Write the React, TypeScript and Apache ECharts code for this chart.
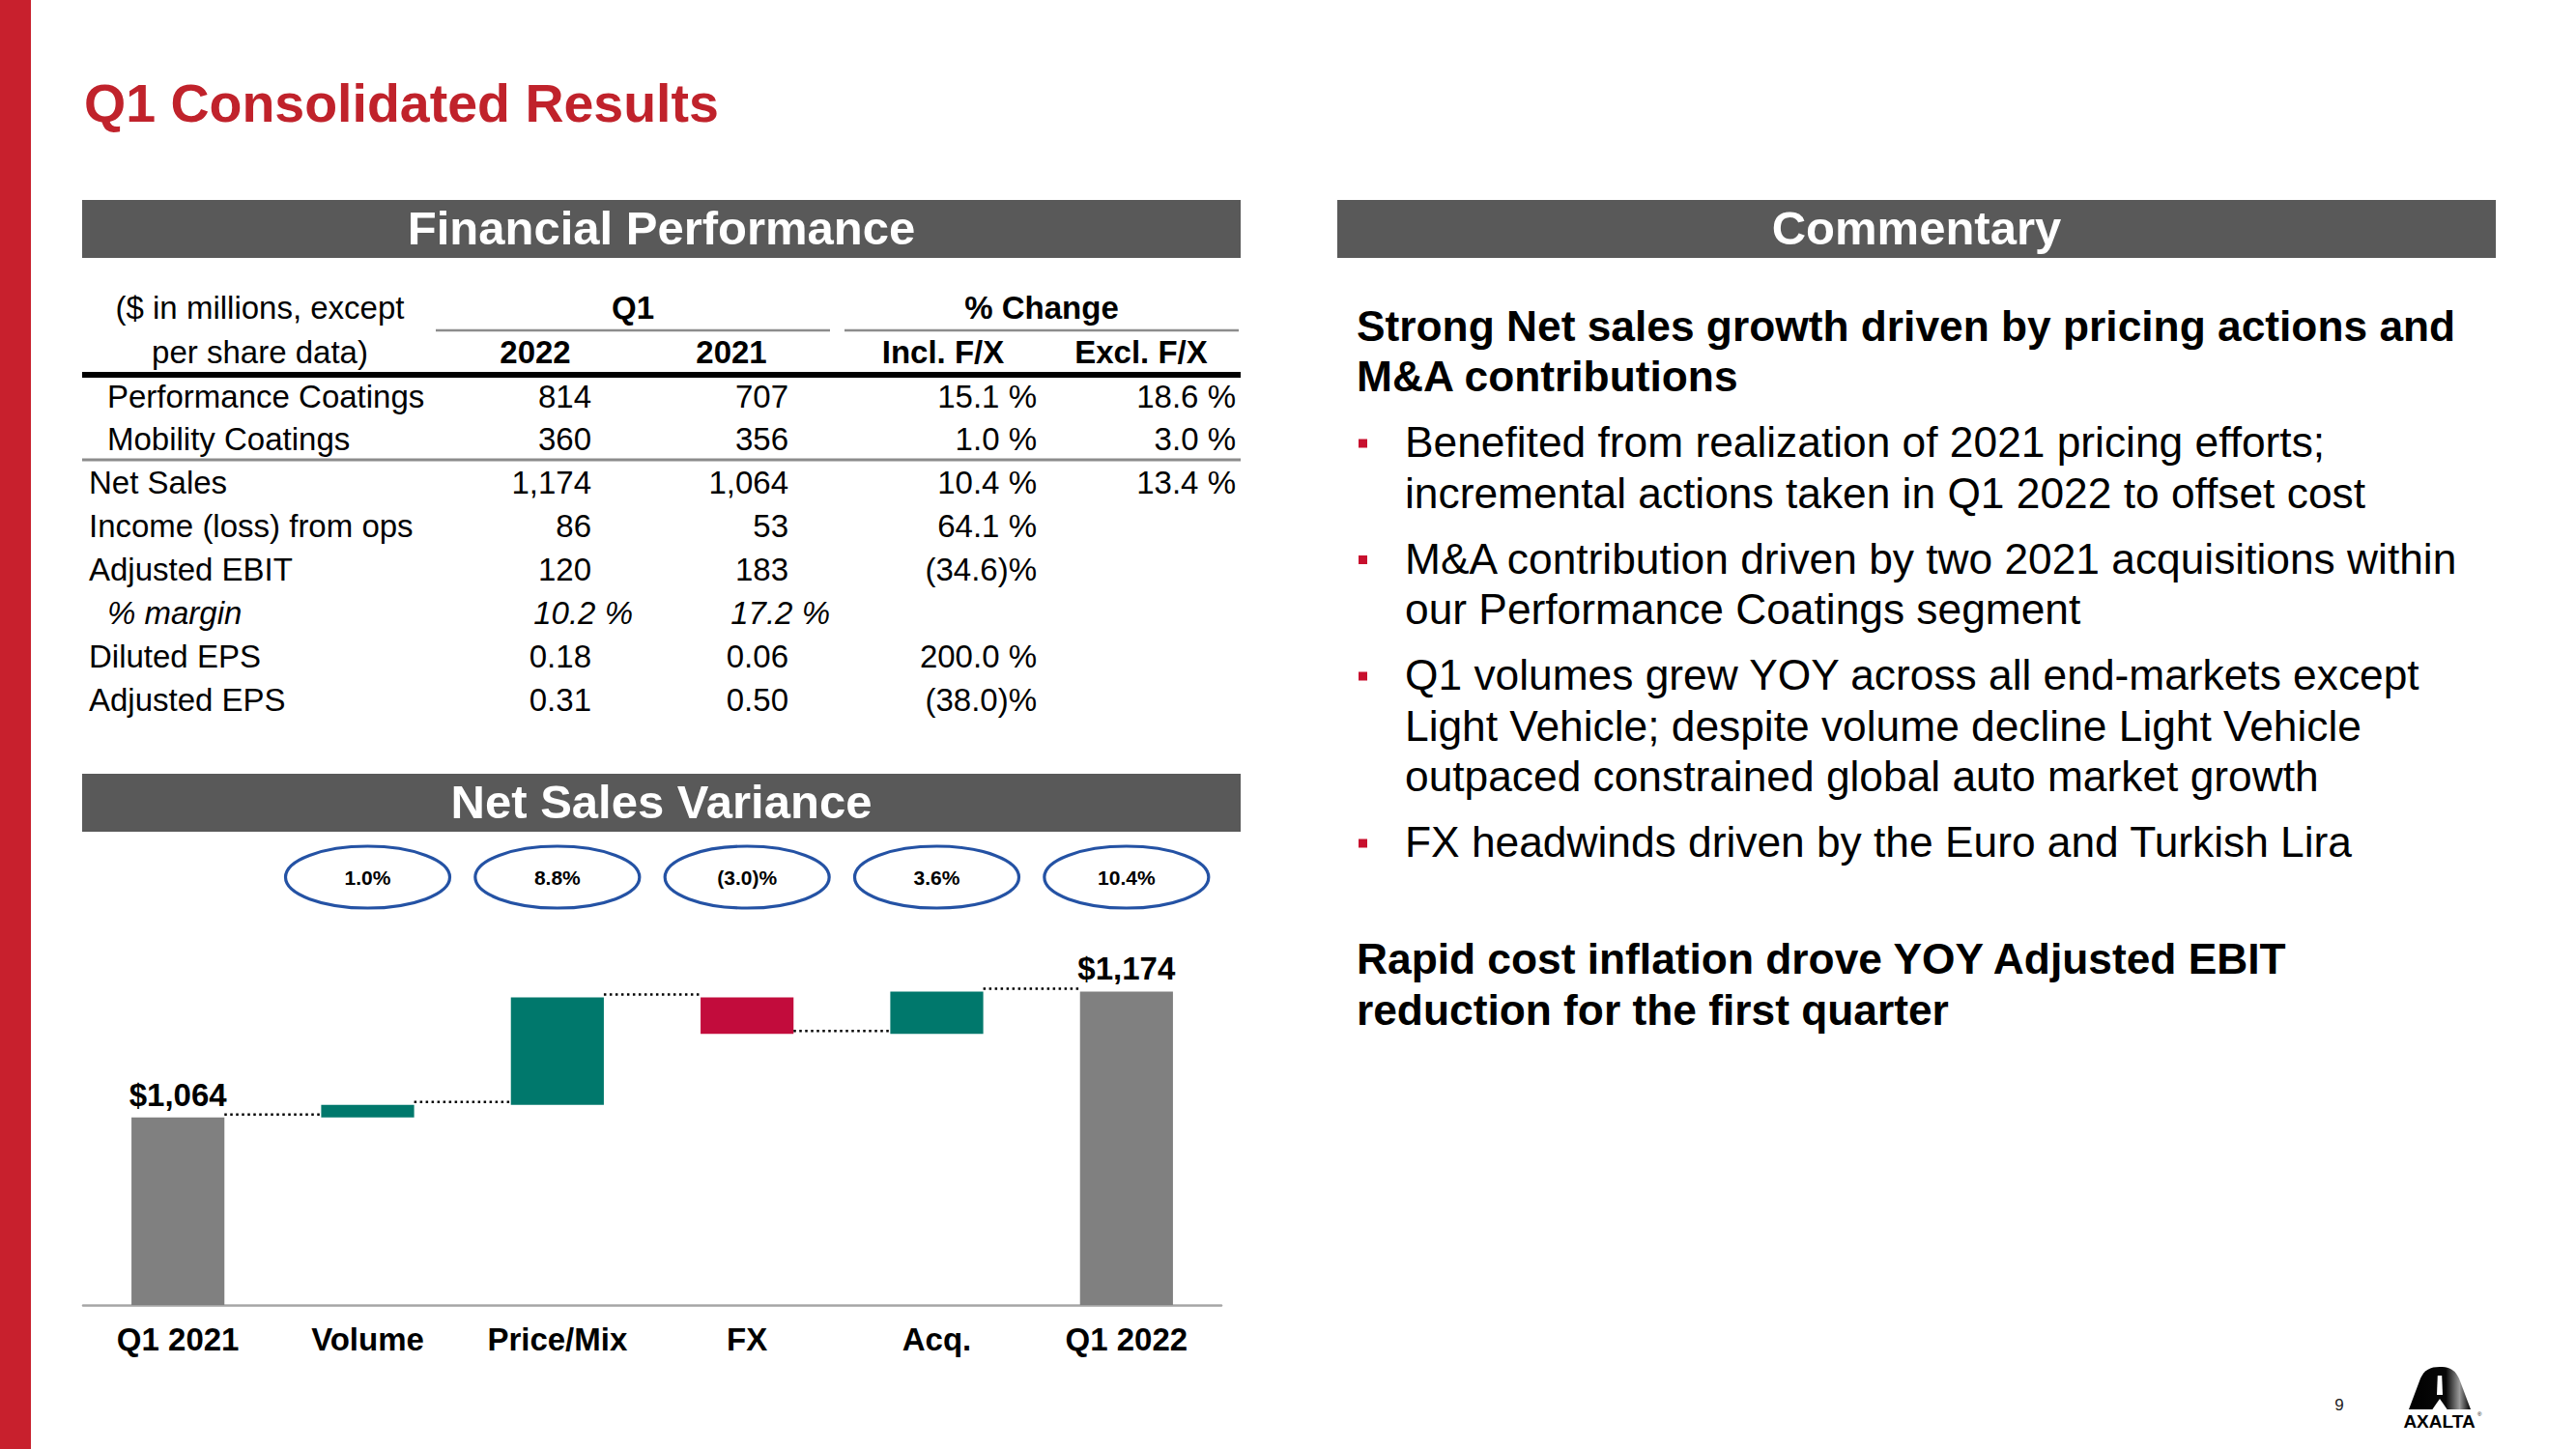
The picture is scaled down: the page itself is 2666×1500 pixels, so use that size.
import React, { useEffect, useRef } from "react";
import * as echarts from "echarts";

const FONT = '"Liberation Sans", Arial, Helvetica, sans-serif';

// ---------------- data ----------------
const categories = ["Q1 2021", "Volume", "Price/Mix", "FX", "Acq.", "Q1 2022"];
const startTotal = 1064;
const endTotal = 1174;
const deltaValues = [11, 94, -32, 37];
const totalLabels = ["$1,064", "$1,174"];
const variancePct = ["1.0%", "8.8%", "(3.0)%", "3.6%", "10.4%"];

const titleText = "Q1 Consolidated Results";
const panelTitles = ["Financial Performance", "Commentary", "Net Sales Variance"];

const headerLeft = ["($ in millions, except", "per share data)"];
const headerGroups = ["Q1", "% Change"];
const headerCols = ["2022", "2021", "Incl. F/X", "Excl. F/X"];

const rowLabels = [
  "Performance Coatings",
  "Mobility Coatings",
  "Net Sales",
  "Income (loss) from ops",
  "Adjusted EBIT",
  "% margin",
  "Diluted EPS",
  "Adjusted EPS",
];
const rowIndent = [1, 1, 0, 0, 0, 1, 0, 0];
const rowItalic = [0, 0, 0, 0, 0, 1, 0, 0];
const values2022 = ["814", "360", "1,174", "86", "120", "10.2 %", "0.18", "0.31"];
const values2021 = ["707", "356", "1,064", "53", "183", "17.2 %", "0.06", "0.50"];
const changeInclFX = ["15.1 %", "1.0 %", "10.4 %", "64.1 %", "(34.6)%", "", "200.0 %", "(38.0)%"];
const changeExclFX = ["18.6 %", "3.0 %", "13.4 %", "", "", "", "", ""];

const commentaryHeadline1 = [
  "Strong Net sales growth driven by pricing actions and",
  "M&A contributions",
];
const commentaryBullets = [
  ["Benefited from realization of 2021 pricing efforts;", "incremental actions taken in Q1 2022 to offset cost"],
  ["M&A contribution driven by two 2021 acquisitions within", "our Performance Coatings segment"],
  [
    "Q1 volumes grew YOY across all end-markets except",
    "Light Vehicle; despite volume decline Light Vehicle",
    "outpaced constrained global auto market growth",
  ],
  ["FX headwinds driven by the Euro and Turkish Lira"],
];
const commentaryHeadline2 = [
  "Rapid cost inflation drove YOY Adjusted EBIT",
  "reduction for the first quarter",
];
const pageNumber = "9";
const logoText = "AXALTA";

// ---------------- styling / layout ----------------
const RED = "#C8202D";
const TITLE_RED = "#C0222B";
const PANEL_GRAY = "#595959";
const BAR_COLORS = ["#808080", "#00786C", "#C20C3C"];
const Y_MIN = 900;
const Y_MAX = 1350;
const ELLIPSE_LEVEL = 1274;
const BAR_RATIO = 0.49;

const ARCH_PATH = "M0,44 L12,12 C16,3 22,0 32,0 C42,0 48,3 52,12 L64,44 Z";

function txt(x: number, y: number, text: string, size: number, opts: any = {}) {
  const align = opts.align || "left";
  const v = opts.verticalAlign || "middle";
  return {
    type: "text",
    x,
    y,
    silent: true,
    style: {
      text,
      fill: opts.color || "#000",
      fontSize: size,
      fontFamily: FONT,
      fontWeight: opts.bold ? "bold" : "normal",
      fontStyle: opts.italic ? "italic" : "normal",
      align,
      verticalAlign: v,
      textAlign: align,
      textVerticalAlign: v,
    },
  };
}

function buildGraphics() {
  const g: any[] = [];
  // left red band
  g.push({ type: "rect", shape: { x: 0, y: 0, width: 32, height: 1500 }, style: { fill: RED }, silent: true });
  // title
  g.push(txt(87, 107, titleText, 55.5, { bold: true, color: TITLE_RED }));

  // panel headers
  const panels = [
    [85, 207, 1199, 60],
    [1384, 207, 1199, 60],
    [85, 801, 1199, 60],
  ];
  panels.forEach((p, i) => {
    g.push({ type: "rect", shape: { x: p[0], y: p[1], width: p[2], height: p[3] }, style: { fill: PANEL_GRAY }, silent: true });
    g.push(txt(p[0] + p[2] / 2, p[1] + p[3] / 2 - 1, panelTitles[i], 49, { bold: true, color: "#fff", align: "center" }));
  });

  // ---- table ----
  const fs = 33;
  g.push(txt(269, 318, headerLeft[0], fs, { align: "center" }));
  g.push(txt(269, 364, headerLeft[1], fs, { align: "center" }));
  g.push(txt(655, 318, headerGroups[0], fs, { bold: true, align: "center" }));
  g.push(txt(1078, 318, headerGroups[1], fs, { bold: true, align: "center" }));
  const colCenters = [554, 757, 976, 1181];
  headerCols.forEach((h, i) => g.push(txt(colCenters[i], 364, h, fs, { bold: true, align: "center" })));

  const lineEl = (x1: number, y1: number, x2: number, y2: number, color: string, w: number) => ({
    type: "line",
    silent: true,
    shape: { x1, y1, x2, y2 },
    style: { stroke: color, lineWidth: w },
  });
  g.push(lineEl(451, 342, 859, 342, "#8C8C8C", 2.5));
  g.push(lineEl(874, 342, 1282, 342, "#8C8C8C", 2.5));
  g.push(lineEl(85, 388, 1284, 388, "#000", 6));
  g.push(lineEl(85, 476, 1284, 476, "#8C8C8C", 3));

  const rowY0 = 410;
  const rowStep = 44.9;
  const pctShift = 43;
  rowLabels.forEach((lab, r) => {
    const y = rowY0 + r * rowStep;
    const it = !!rowItalic[r];
    g.push(txt(rowIndent[r] ? 111 : 92, y, lab, fs, { italic: it }));
    const v22 = values2022[r];
    const v21 = values2021[r];
    g.push(txt(612 + (v22.indexOf("%") >= 0 ? pctShift : 0), y, v22, fs, { italic: it, align: "right" }));
    g.push(txt(816 + (v21.indexOf("%") >= 0 ? pctShift : 0), y, v21, fs, { italic: it, align: "right" }));
    if (changeInclFX[r]) g.push(txt(1073, y, changeInclFX[r], fs, { align: "right" }));
    if (changeExclFX[r]) g.push(txt(1279, y, changeExclFX[r], fs, { align: "right" }));
  });

  // ---- commentary ----
  const cfs = 44.3;
  const lh = 52.5;
  const gap = 15.5;
  let y = 337;
  commentaryHeadline1.forEach((l) => {
    g.push(txt(1404, y, l, cfs, { bold: true }));
    y += lh;
  });
  y += gap;
  commentaryBullets.forEach((lines) => {
    g.push({ type: "rect", silent: true, shape: { x: 1406, y: y - 3, width: 9, height: 9 }, style: { fill: "#C8102E" } });
    lines.forEach((l) => {
      g.push(txt(1454, y, l, cfs));
      y += lh;
    });
    y += gap;
  });
  y += 121 - lh - gap;
  commentaryHeadline2.forEach((l) => {
    g.push(txt(1404, y, l, cfs, { bold: true }));
    y += lh;
  });

  // page number
  g.push(txt(2421, 1454, pageNumber, 17, { align: "center", color: "#222" }));

  // logo
  const LX = 2493;
  const LY = 1415;
  g.push({
    type: "axaltaArch",
    x: LX,
    y: LY,
    scaleX: 1,
    scaleY: 1,
    silent: true,
    style: {
      fill: new echarts.graphic.LinearGradient(0, 0, 1, 0, [
        { offset: 0, color: "#000" },
        { offset: 0.6, color: "#080808" },
        { offset: 0.82, color: "#9a9a9a" },
        { offset: 0.93, color: "#3a3a3a" },
        { offset: 1, color: "#000" },
      ]),
    },
  });
  g.push({
    type: "polygon",
    silent: true,
    shape: { points: [[29.8, 9], [34.2, 9], [35, 29], [29, 29]] },
    x: LX,
    y: LY,
    style: { fill: "#fff" },
  });
  g.push({
    type: "polygon",
    silent: true,
    shape: { points: [[24, 44.5], [32, 33], [40, 44.5]] },
    x: LX,
    y: LY,
    style: { fill: "#fff" },
  });
  g.push(txt(2524.5, 1471, logoText, 19, { bold: true, align: "center" }));
  g.push(txt(2564, 1464, "®", 6, { align: "left" }));
  return g;
}

function buildWaterfall() {
  const segs: number[][] = [];
  segs.push([0, Y_MIN, startTotal, 0]);
  let run = startTotal;
  const levels: number[] = [startTotal];
  deltaValues.forEach((d, k) => {
    const next = run + d;
    segs.push([k + 1, Math.min(run, next), Math.max(run, next), d >= 0 ? 1 : 2]);
    run = next;
    levels.push(run);
  });
  segs.push([categories.length - 1, Y_MIN, endTotal, 0]);
  const connectors = levels.map((L, i) => [i, L]);
  const ellipses = variancePct.map((_, i) => [i + 1, ELLIPSE_LEVEL]);
  return { segs, connectors, ellipses };
}

export default function App() {
  const ref = useRef<HTMLDivElement>(null);
  useEffect(() => {
    document.body.style.margin = "0";
    if (!ref.current) return;
    try {
      echarts.graphic.registerShape("axaltaArch", echarts.graphic.extendPath(ARCH_PATH, {}));
    } catch (e) {}
    const chart = echarts.init(ref.current, null, { renderer: "svg" });
    const { segs, connectors, ellipses } = buildWaterfall();
    const option: any = {
      animation: false,
      backgroundColor: "#fff",
      grid: { left: 86, top: 818, width: 1178, height: 533, containLabel: false },
      xAxis: {
        type: "category",
        data: categories,
        axisLine: { onZero: false, lineStyle: { color: "#A6A6A6", width: 2.5 } },
        axisTick: { show: false },
        splitLine: { show: false },
        axisLabel: { fontSize: 33, fontWeight: "bold", color: "#000", fontFamily: FONT, margin: 19 },
      },
      yAxis: { type: "value", min: Y_MIN, max: Y_MAX, show: false, splitLine: { show: false } },
      graphic: { elements: buildGraphics() },
      series: [
        {
          type: "custom",
          name: "bars",
          data: segs,
          encode: { x: 0, y: [1, 2] },
          renderItem: (params: any, api: any) => {
            const idx = api.value(0);
            const low = api.value(1);
            const high = api.value(2);
            const kind = api.value(3);
            const w = api.size([1, 0])[0] * BAR_RATIO;
            const p1 = api.coord([idx, high]);
            const p0 = api.coord([idx, low]);
            const children: any[] = [
              {
                type: "rect",
                shape: { x: p1[0] - w / 2, y: p1[1], width: w, height: p0[1] - p1[1] },
                style: { fill: BAR_COLORS[kind] },
              },
            ];
            if (kind === 0) {
              const li = idx === 0 ? 0 : 1;
              children.push({
                type: "text",
                x: p1[0],
                y: p1[1] - 7,
                style: {
                  text: totalLabels[li],
                  fill: "#000",
                  fontSize: 33,
                  fontWeight: "bold",
                  fontFamily: FONT,
                  align: "center",
                  verticalAlign: "bottom",
                  textAlign: "center",
                  textVerticalAlign: "bottom",
                },
              });
            }
            return { type: "group", children };
          },
        },
        {
          type: "custom",
          name: "connectors",
          data: connectors,
          encode: { x: 0, y: 1 },
          renderItem: (params: any, api: any) => {
            const i = api.value(0);
            const L = api.value(1);
            const w = api.size([1, 0])[0] * BAR_RATIO;
            const a = api.coord([i, L]);
            const b = api.coord([i + 1, L]);
            return {
              type: "line",
              shape: { x1: a[0] + w / 2, y1: a[1] - 3, x2: b[0] - w / 2, y2: a[1] - 3 },
              style: { stroke: "#000", lineWidth: 2.5, lineDash: [2.5, 3.5] },
            };
          },
        },
        {
          type: "custom",
          name: "pct",
          data: ellipses,
          encode: { x: 0, y: 1 },
          renderItem: (params: any, api: any) => {
            const c = api.coord([api.value(0), api.value(1)]);
            return {
              type: "group",
              children: [
                {
                  type: "ellipse",
                  shape: { cx: c[0], cy: c[1], rx: 85, ry: 32 },
                  style: { fill: "#fff", stroke: "#2452A4", lineWidth: 3.2 },
                },
                {
                  type: "text",
                  x: c[0],
                  y: c[1],
                  style: {
                    text: variancePct[params.dataIndex],
                    fill: "#000",
                    fontSize: 21,
                    fontWeight: "bold",
                    fontFamily: FONT,
                    align: "center",
                    verticalAlign: "middle",
                    textAlign: "center",
                    textVerticalAlign: "middle",
                  },
                },
              ],
            };
          },
        },
      ],
    };
    chart.setOption(option);
    return () => chart.dispose();
  }, []);
  return <div ref={ref} style={{ width: 2666, height: 1500 }} />;
}
